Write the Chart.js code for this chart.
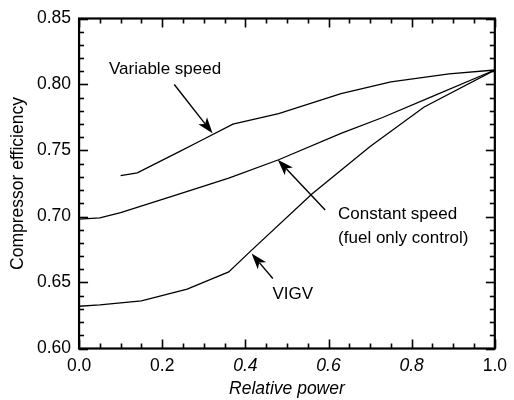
<!DOCTYPE html>
<html>
<head>
<meta charset="utf-8">
<script src="https://cdn.jsdelivr.net/npm/chart.js@4.4.0/dist/chart.umd.min.js"></script>
<style>
  html, body { margin: 0; padding: 0; background: #fff; }
</style>
</head>
<body>
<canvas id="c" width="514" height="400"></canvas>
<script>
// Compressor efficiency vs. relative power for three part-load control modes
const variableSpeedPower = [0.10, 0.14, 0.24, 0.29, 0.37, 0.48, 0.63, 0.75, 0.89, 1.00];
const variableSpeedEff   = [0.731, 0.733, 0.749, 0.757, 0.770, 0.778, 0.793, 0.802, 0.808, 0.811];

const constantSpeedPower = [0.00, 0.05, 0.10, 0.24, 0.36, 0.48, 0.63, 0.73, 0.85, 1.00];
const constantSpeedEff   = [0.698, 0.699, 0.703, 0.717, 0.729, 0.743, 0.763, 0.775, 0.791, 0.811];

const vigvPower = [0.00, 0.05, 0.15, 0.26, 0.36, 0.41, 0.56, 0.63, 0.70, 0.83, 1.00];
const vigvEff   = [0.632, 0.633, 0.636, 0.645, 0.658, 0.673, 0.717, 0.735, 0.753, 0.783, 0.811];

const xTitle = 'Relative power';
const yTitle = 'Compressor efficiency';

// Callout labels (anchored at the first line's baseline) and their arrows, in data units
const callouts = [
  { lines: ['Variable speed'], x: 0.072, y: 0.808, align: 'left',
    arrow: { from: [0.229, 0.800], to: [0.321, 0.763] } },
  { lines: ['Constant speed', '(fuel only control)'], x: 0.623, y: 0.698, align: 'left',
    arrow: { from: [0.592, 0.705], to: [0.478, 0.743] } },
  { lines: ['VIGV'], x: 0.514, y: 0.6377, align: 'center',
    arrow: { from: [0.466, 0.653], to: [0.415, 0.672] } }
];

const toPoints = (xs, ys) => xs.map((v, i) => ({ x: v, y: ys[i] }));

const INK = '#000';
const FONT = '"Liberation Sans", Arial, Helvetica, sans-serif';

// Boxed frame with inward-pointing tick marks on all four sides
const frameTicks = {
  id: 'frameTicks',
  afterDatasetsDraw(chart) {
    const { ctx, chartArea: a, scales: { x, y } } = chart;
    ctx.save();
    ctx.strokeStyle = INK;
    ctx.lineCap = 'butt';
    ctx.lineWidth = 1.6;
    const seg = (x0, y0, x1, y1) => { ctx.beginPath(); ctx.moveTo(x0, y0); ctx.lineTo(x1, y1); ctx.stroke(); };
    for (let i = 0; i <= 20; i++) {
      const px = Math.round(x.getPixelForValue(i * 0.05)) + 0.5;
      const len = i % 4 === 0 ? 9 : 5;
      seg(px, a.bottom, px, a.bottom - len);
      seg(px, a.top, px, a.top + len);
    }
    for (let i = 0; i <= 25; i++) {
      const py = Math.round(y.getPixelForValue(0.6 + i * 0.01)) + 0.5;
      const len = i % 5 === 0 ? 9 : 5;
      seg(a.left, py, a.left + len, py);
      seg(a.right, py, a.right - len, py);
    }
    ctx.lineWidth = 2.2;
    ctx.strokeRect(a.left, a.top, a.right - a.left, a.bottom - a.top);
    ctx.restore();
  }
};

// Text callouts with filled arrowheads
const calloutPlugin = {
  id: 'callouts',
  afterDatasetsDraw(chart) {
    const { ctx, scales: { x, y } } = chart;
    ctx.save();
    ctx.fillStyle = INK;
    ctx.strokeStyle = INK;
    ctx.font = '17px ' + FONT;
    ctx.textBaseline = 'alphabetic';
    const lineH = 24;
    callouts.forEach(c => {
      ctx.textAlign = c.align;
      const px = x.getPixelForValue(c.x);
      const py = y.getPixelForValue(c.y);
      c.lines.forEach((t, i) => ctx.fillText(t, px, py + i * lineH));

      const x0 = x.getPixelForValue(c.arrow.from[0]);
      const y0 = y.getPixelForValue(c.arrow.from[1]);
      const x1 = x.getPixelForValue(c.arrow.to[0]);
      const y1 = y.getPixelForValue(c.arrow.to[1]);
      const ang = Math.atan2(y1 - y0, x1 - x0);
      const L = 16, W = 5.5, notch = 4;
      ctx.lineWidth = 1.4;
      ctx.beginPath();
      ctx.moveTo(x0, y0);
      ctx.lineTo(x1 - (L - notch) * Math.cos(ang), y1 - (L - notch) * Math.sin(ang));
      ctx.stroke();
      ctx.save();
      ctx.translate(x1, y1);
      ctx.rotate(ang);
      ctx.beginPath();
      ctx.moveTo(0, 0);
      ctx.lineTo(-L, -W);
      ctx.lineTo(-L + notch, 0);
      ctx.lineTo(-L, W);
      ctx.closePath();
      ctx.fill();
      ctx.restore();
    });
    ctx.restore();
  }
};

const lineStyle = {
  borderColor: INK,
  borderWidth: 1.3,
  pointRadius: 0,
  tension: 0,
  fill: false
};

new Chart(document.getElementById('c'), {
  type: 'line',
  data: {
    datasets: [
      { label: 'Variable speed', data: toPoints(variableSpeedPower, variableSpeedEff), ...lineStyle },
      { label: 'Constant speed (fuel only control)', data: toPoints(constantSpeedPower, constantSpeedEff), ...lineStyle },
      { label: 'VIGV', data: toPoints(vigvPower, vigvEff), ...lineStyle }
    ]
  },
  options: {
    responsive: false,
    animation: false,
    devicePixelRatio: 1,
    layout: { padding: { left: 8, right: 16, top: 2, bottom: 2 } },
    plugins: { legend: { display: false }, tooltip: { enabled: false } },
    scales: {
      x: {
        type: 'linear',
        min: 0, max: 1,
        grid: { display: false, drawTicks: false },
        border: { display: false },
        ticks: {
          stepSize: 0.2,
          padding: 7,
          color: INK,
          maxRotation: 0,
          font: ctx => ({ family: FONT, size: 17.5,
            style: (ctx.index >= 2 && ctx.index <= 4) ? 'italic' : 'normal' }),
          callback: v => Number(v).toFixed(1)
        },
        title: { display: true, text: xTitle, color: INK,
          font: { family: FONT, size: 17.5, style: 'italic', lineHeight: 1 },
          padding: { top: -3, bottom: 0 } }
      },
      y: {
        min: 0.6, max: 0.85,
        grid: { display: false, drawTicks: false },
        border: { display: false },
        ticks: {
          stepSize: 0.05,
          padding: 8,
          color: INK,
          font: { family: FONT, size: 17.5 },
          callback: v => Number(v).toFixed(2)
        },
        title: { display: true, text: yTitle, color: INK,
          font: { family: FONT, size: 17.5 }, padding: { top: 0, bottom: 0 } }
      }
    }
  },
  plugins: [frameTicks, calloutPlugin]
});
</script>
</body>
</html>
